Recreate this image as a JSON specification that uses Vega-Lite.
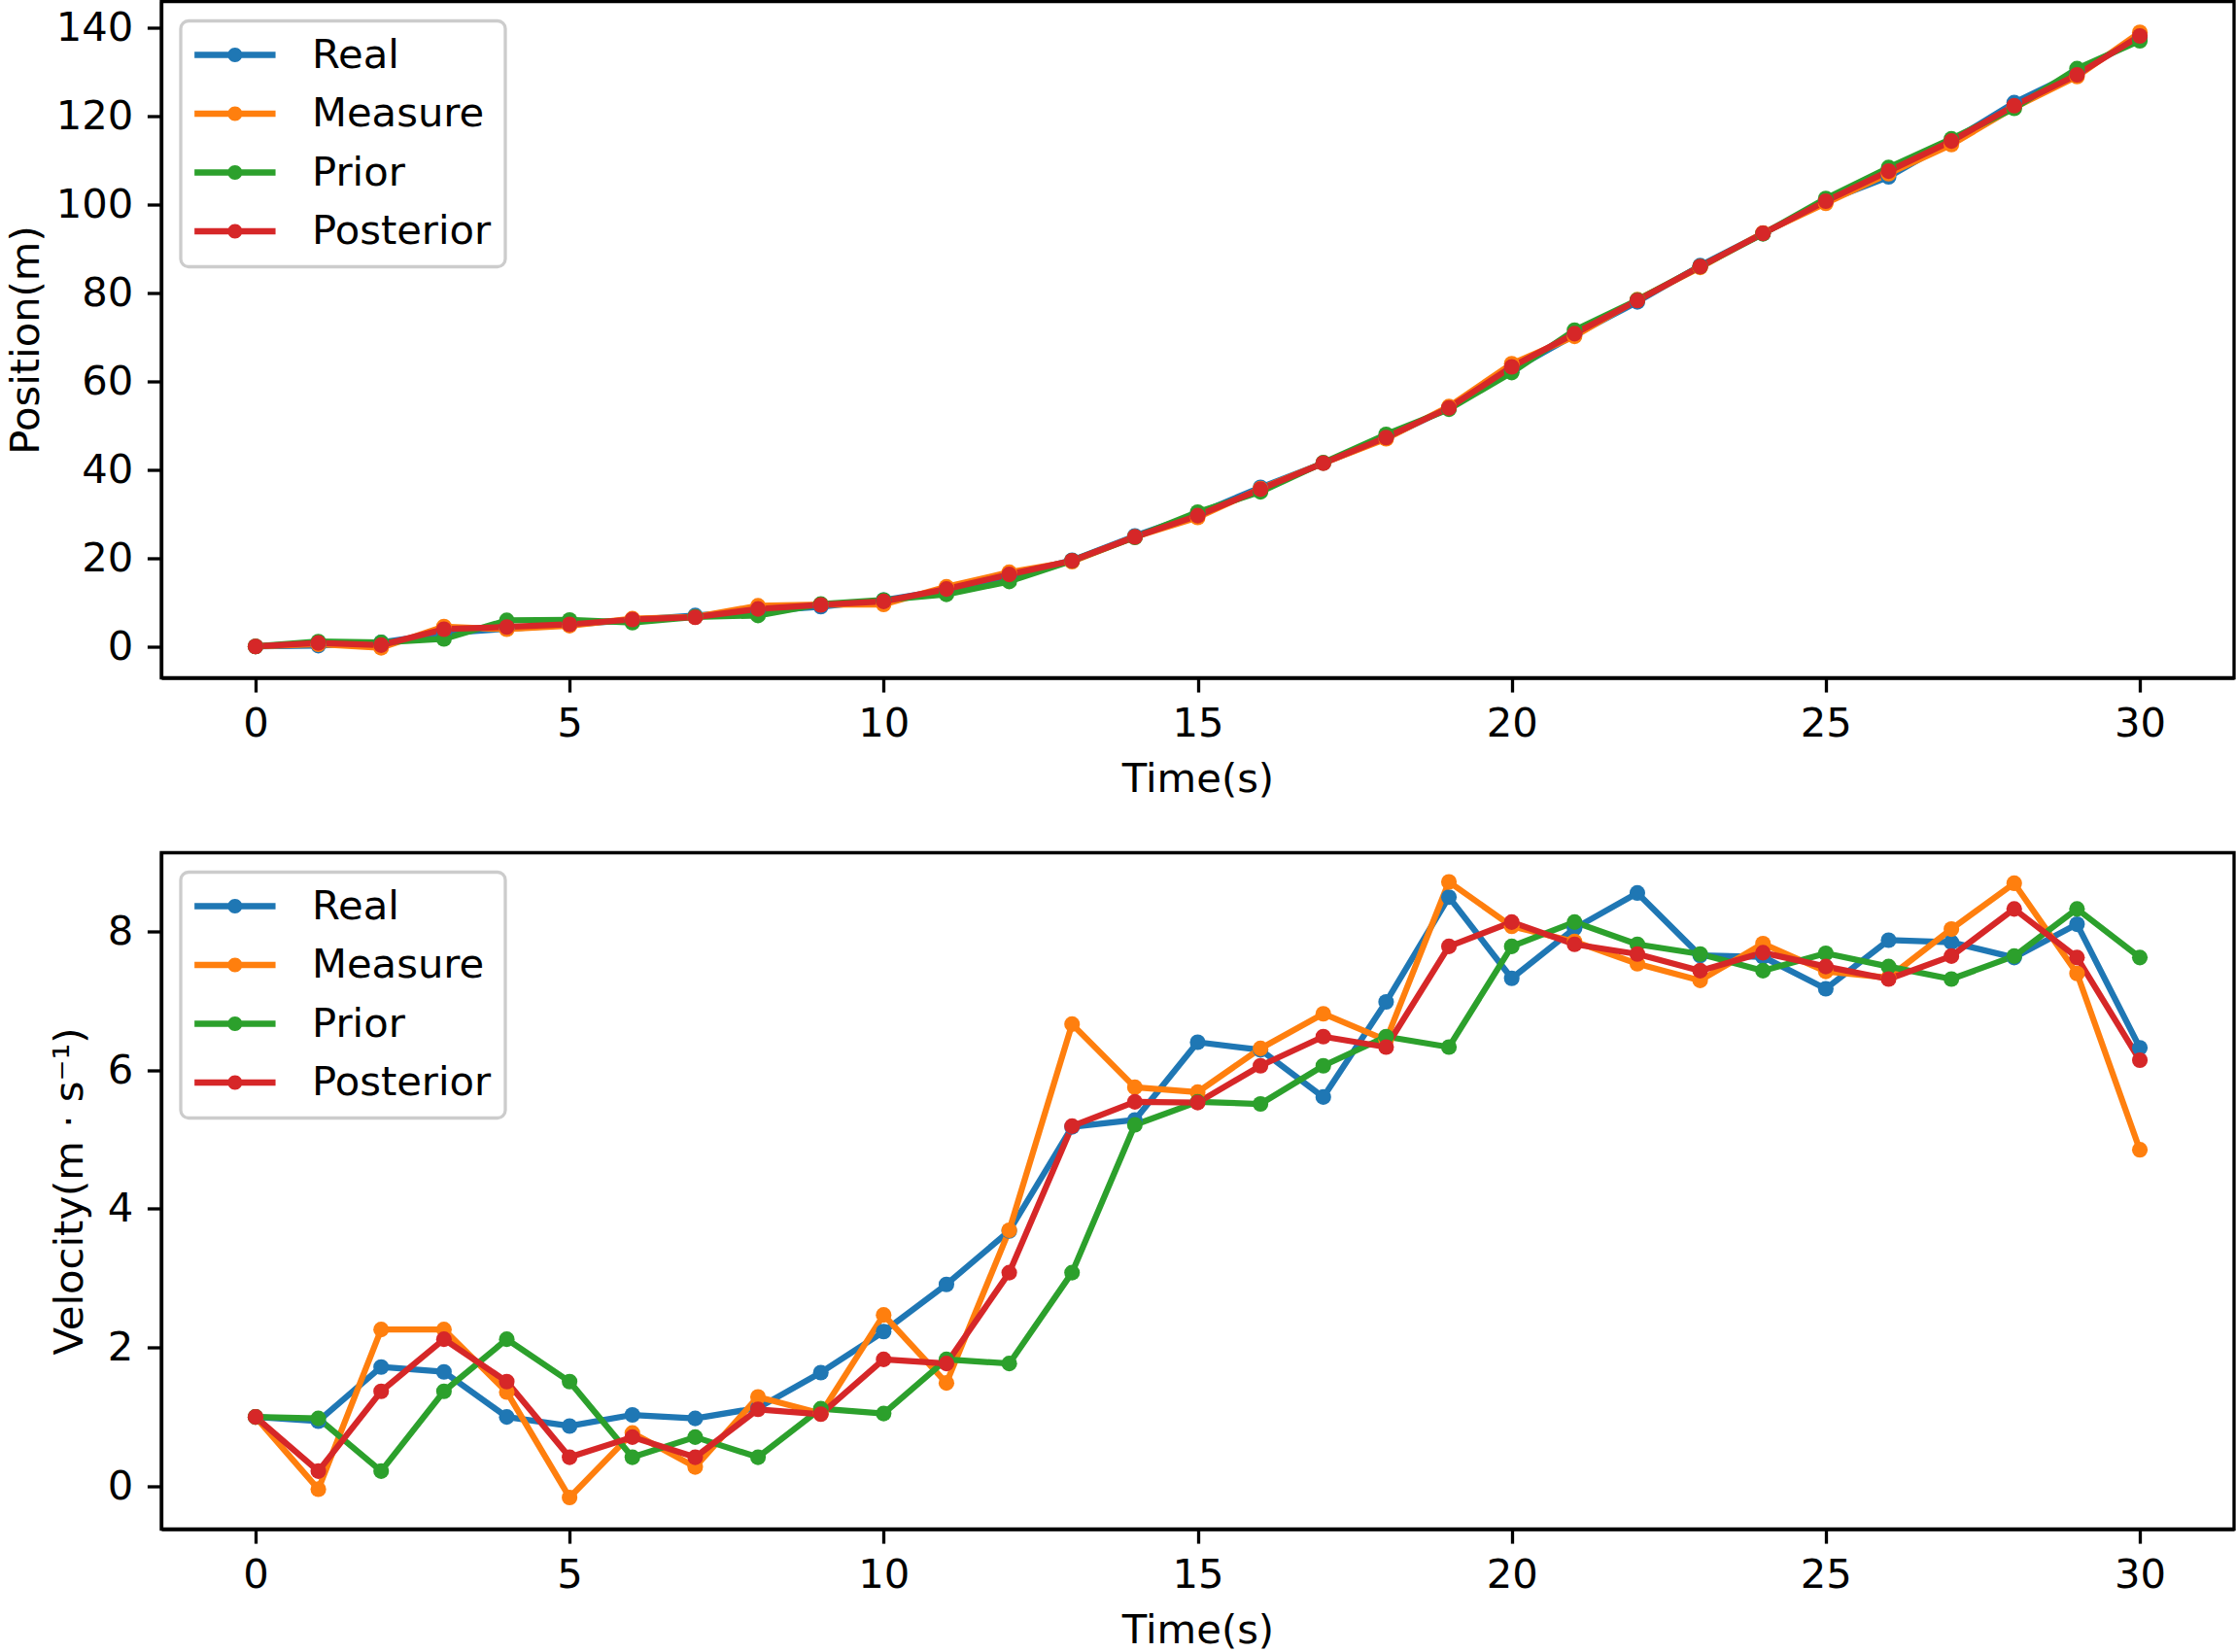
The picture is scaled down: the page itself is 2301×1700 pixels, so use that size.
{
  "$schema": "https://vega.github.io/schema/vega-lite/v6.json",
  "autosize": {"type": "none"},
  "padding": {"left": 166, "top": 1.5, "right": 2135, "bottom": 1698.5},
  "background": "white",
  "bounds": "flush",
  "spacing": 180,
  "config": {
    "font": "DejaVu Sans",
    "view": {"stroke": "black", "strokeWidth": 3.3},
    "axis": {
      "grid": false,
      "domainColor": "black", "domainWidth": 3.3,
      "tickColor": "black", "tickWidth": 3.3, "tickSize": 14.6,
      "labelFont": "DejaVu Sans", "labelFontSize": 41.7, "labelColor": "black",
      "titleFont": "DejaVu Sans", "titleFontSize": 41.7, "titleFontWeight": "normal", "titleColor": "black",
      "labelFlush": false, "labelOverlap": false
    },
    "legend": {
      "orient": "top-left", "offset": 20, "padding": 14, "rowPadding": 17.5,
      "labelFont": "DejaVu Sans", "labelFontSize": 41.7, "labelColor": "black", "labelOffset": 79, "labelLimit": 500,
      "symbolType": "M -1 -0.15 L 3 -0.15 L 3 0.15 L -1 0.15 Z M 1.36 0 A 0.36 0.36 0 1 1 0.64 0 A 0.36 0.36 0 1 1 1.36 0 Z",
      "symbolSize": 1739, "symbolStrokeWidth": 0, "symbolOpacity": 1,
      "fillColor": "rgba(255,255,255,0.8)", "strokeColor": "#cccccc", "strokeWidth": 3.3, "cornerRadius": 8
    }
  },
  "resolve": {"scale": {"color": "independent"}, "legend": {"color": "independent"}},
  "datasets": {
    "kf": [
      {"time":0,"series":"Real","position":0,"velocity":1.0},
      {"time":1,"series":"Real","position":0.2,"velocity":0.94},
      {"time":2,"series":"Real","position":0.9,"velocity":1.72},
      {"time":3,"series":"Real","position":3.0,"velocity":1.65},
      {"time":4,"series":"Real","position":4.0,"velocity":1.0},
      {"time":5,"series":"Real","position":4.9,"velocity":0.87},
      {"time":6,"series":"Real","position":6.0,"velocity":1.03},
      {"time":7,"series":"Real","position":7.0,"velocity":0.98},
      {"time":8,"series":"Real","position":8.0,"velocity":1.13},
      {"time":9,"series":"Real","position":9.0,"velocity":1.64},
      {"time":10,"series":"Real","position":10.5,"velocity":2.23},
      {"time":11,"series":"Real","position":12.8,"velocity":2.91},
      {"time":12,"series":"Real","position":16.0,"velocity":3.68},
      {"time":13,"series":"Real","position":19.5,"velocity":5.18},
      {"time":14,"series":"Real","position":25.0,"velocity":5.28},
      {"time":15,"series":"Real","position":30.0,"velocity":6.40},
      {"time":16,"series":"Real","position":36.0,"velocity":6.29},
      {"time":17,"series":"Real","position":41.5,"velocity":5.61},
      {"time":18,"series":"Real","position":47.2,"velocity":6.98},
      {"time":19,"series":"Real","position":54.0,"velocity":8.49},
      {"time":20,"series":"Real","position":62.5,"velocity":7.32},
      {"time":21,"series":"Real","position":70.5,"velocity":8.04},
      {"time":22,"series":"Real","position":78.0,"velocity":8.55},
      {"time":23,"series":"Real","position":86.2,"velocity":7.65},
      {"time":24,"series":"Real","position":93.5,"velocity":7.63},
      {"time":25,"series":"Real","position":100.8,"velocity":7.17},
      {"time":26,"series":"Real","position":106.3,"velocity":7.87},
      {"time":27,"series":"Real","position":114.4,"velocity":7.84},
      {"time":28,"series":"Real","position":123.1,"velocity":7.62},
      {"time":29,"series":"Real","position":130.0,"velocity":8.10},
      {"time":30,"series":"Real","position":137.8,"velocity":6.32},
      {"time":0,"series":"Measure","position":0,"velocity":1.0},
      {"time":1,"series":"Measure","position":0.5,"velocity":-0.04},
      {"time":2,"series":"Measure","position":-0.3,"velocity":2.26},
      {"time":3,"series":"Measure","position":4.5,"velocity":2.26},
      {"time":4,"series":"Measure","position":3.9,"velocity":1.36},
      {"time":5,"series":"Measure","position":4.7,"velocity":-0.16},
      {"time":6,"series":"Measure","position":6.3,"velocity":0.77},
      {"time":7,"series":"Measure","position":6.7,"velocity":0.28},
      {"time":8,"series":"Measure","position":9.2,"velocity":1.29},
      {"time":9,"series":"Measure","position":9.5,"velocity":1.05},
      {"time":10,"series":"Measure","position":9.5,"velocity":2.47},
      {"time":11,"series":"Measure","position":13.5,"velocity":1.49},
      {"time":12,"series":"Measure","position":16.8,"velocity":3.69},
      {"time":13,"series":"Measure","position":19.2,"velocity":6.66},
      {"time":14,"series":"Measure","position":24.8,"velocity":5.75},
      {"time":15,"series":"Measure","position":29.2,"velocity":5.68},
      {"time":16,"series":"Measure","position":35.7,"velocity":6.31},
      {"time":17,"series":"Measure","position":41.5,"velocity":6.81},
      {"time":18,"series":"Measure","position":47.0,"velocity":6.43},
      {"time":19,"series":"Measure","position":54.3,"velocity":8.71},
      {"time":20,"series":"Measure","position":64.0,"velocity":8.07},
      {"time":21,"series":"Measure","position":70.2,"velocity":7.85},
      {"time":22,"series":"Measure","position":78.5,"velocity":7.53},
      {"time":23,"series":"Measure","position":85.8,"velocity":7.29},
      {"time":24,"series":"Measure","position":93.6,"velocity":7.82},
      {"time":25,"series":"Measure","position":100.3,"velocity":7.42},
      {"time":26,"series":"Measure","position":107.0,"velocity":7.33},
      {"time":27,"series":"Measure","position":113.6,"velocity":8.03},
      {"time":28,"series":"Measure","position":122.0,"velocity":8.69},
      {"time":29,"series":"Measure","position":129.0,"velocity":7.39},
      {"time":30,"series":"Measure","position":139.0,"velocity":4.85},
      {"time":0,"series":"Prior","position":0,"velocity":1.0},
      {"time":1,"series":"Prior","position":1.1,"velocity":0.98},
      {"time":2,"series":"Prior","position":0.9,"velocity":0.22},
      {"time":3,"series":"Prior","position":1.7,"velocity":1.37},
      {"time":4,"series":"Prior","position":5.9,"velocity":2.12},
      {"time":5,"series":"Prior","position":6.0,"velocity":1.51},
      {"time":6,"series":"Prior","position":5.4,"velocity":0.42},
      {"time":7,"series":"Prior","position":6.7,"velocity":0.71},
      {"time":8,"series":"Prior","position":7.0,"velocity":0.42},
      {"time":9,"series":"Prior","position":9.6,"velocity":1.12},
      {"time":10,"series":"Prior","position":10.5,"velocity":1.05},
      {"time":11,"series":"Prior","position":11.8,"velocity":1.83},
      {"time":12,"series":"Prior","position":14.7,"velocity":1.77},
      {"time":13,"series":"Prior","position":19.4,"velocity":3.08},
      {"time":14,"series":"Prior","position":24.7,"velocity":5.21},
      {"time":15,"series":"Prior","position":30.4,"velocity":5.54},
      {"time":16,"series":"Prior","position":35.0,"velocity":5.51},
      {"time":17,"series":"Prior","position":41.6,"velocity":6.06},
      {"time":18,"series":"Prior","position":48.0,"velocity":6.48},
      {"time":19,"series":"Prior","position":53.7,"velocity":6.33},
      {"time":20,"series":"Prior","position":62.0,"velocity":7.78},
      {"time":21,"series":"Prior","position":71.6,"velocity":8.13},
      {"time":22,"series":"Prior","position":78.4,"velocity":7.81},
      {"time":23,"series":"Prior","position":86.0,"velocity":7.67},
      {"time":24,"series":"Prior","position":93.4,"velocity":7.43},
      {"time":25,"series":"Prior","position":101.4,"velocity":7.68},
      {"time":26,"series":"Prior","position":108.4,"velocity":7.49},
      {"time":27,"series":"Prior","position":114.9,"velocity":7.31},
      {"time":28,"series":"Prior","position":121.8,"velocity":7.64},
      {"time":29,"series":"Prior","position":130.8,"velocity":8.32},
      {"time":30,"series":"Prior","position":137.1,"velocity":7.62},
      {"time":0,"series":"Posterior","position":0,"velocity":1.0},
      {"time":1,"series":"Posterior","position":0.8,"velocity":0.22},
      {"time":2,"series":"Posterior","position":0.3,"velocity":1.37},
      {"time":3,"series":"Posterior","position":3.9,"velocity":2.12},
      {"time":4,"series":"Posterior","position":4.4,"velocity":1.51},
      {"time":5,"series":"Posterior","position":5.0,"velocity":0.42},
      {"time":6,"series":"Posterior","position":6.1,"velocity":0.71},
      {"time":7,"series":"Posterior","position":6.6,"velocity":0.42},
      {"time":8,"series":"Posterior","position":8.5,"velocity":1.11},
      {"time":9,"series":"Posterior","position":9.4,"velocity":1.04},
      {"time":10,"series":"Posterior","position":10.2,"velocity":1.83},
      {"time":11,"series":"Posterior","position":13.0,"velocity":1.77},
      {"time":12,"series":"Posterior","position":16.3,"velocity":3.08},
      {"time":13,"series":"Posterior","position":19.4,"velocity":5.19},
      {"time":14,"series":"Posterior","position":24.8,"velocity":5.54},
      {"time":15,"series":"Posterior","position":29.6,"velocity":5.53},
      {"time":16,"series":"Posterior","position":35.6,"velocity":6.06},
      {"time":17,"series":"Posterior","position":41.5,"velocity":6.48},
      {"time":18,"series":"Posterior","position":47.3,"velocity":6.33},
      {"time":19,"series":"Posterior","position":54.0,"velocity":7.78},
      {"time":20,"series":"Posterior","position":63.3,"velocity":8.13},
      {"time":21,"series":"Posterior","position":70.8,"velocity":7.81},
      {"time":22,"series":"Posterior","position":78.3,"velocity":7.67},
      {"time":23,"series":"Posterior","position":86.0,"velocity":7.43},
      {"time":24,"series":"Posterior","position":93.5,"velocity":7.69},
      {"time":25,"series":"Posterior","position":100.8,"velocity":7.49},
      {"time":26,"series":"Posterior","position":107.6,"velocity":7.31},
      {"time":27,"series":"Posterior","position":114.4,"velocity":7.64},
      {"time":28,"series":"Posterior","position":122.4,"velocity":8.32},
      {"time":29,"series":"Posterior","position":129.4,"velocity":7.62},
      {"time":30,"series":"Posterior","position":138.2,"velocity":6.14}
    ]
  },
  "vconcat": [
    {
      "width": 2133, "height": 696,
      "data": {"name": "kf"},
      "encoding": {
        "x": {"field": "time", "type": "quantitative",
              "scale": {"domain": [-1.5, 31.5], "nice": false, "zero": false},
              "axis": {"values": [0,5,10,15,20,25,30], "title": "Time(s)", "labelPadding": 12, "titlePadding": 16}},
        "y": {"field": "position", "type": "quantitative",
              "scale": {"domain": [-7.1, 146], "nice": false, "zero": false},
              "axis": {"values": [0,20,40,60,80,100,120,140], "title": "Position(m)", "labelPadding": 14.6, "titlePadding": 9}},
        "color": {"field": "series", "type": "nominal",
            "scale": {"domain": ["Real","Measure","Prior","Posterior"], "range": ["#1f77b4","#ff7f0e","#2ca02c","#d62728"]},
            "legend": {"title": null,
              "encode": {"symbols": {"update": {
                "fill": {"signal": "datum.value === 'Real' ? '#1f77b4' : datum.value === 'Measure' ? '#ff7f0e' : datum.value === 'Prior' ? '#2ca02c' : '#d62728'"},
                "strokeWidth": {"value": 0}, "opacity": {"value": 1}}}}}}
      },
      "layer": [
        {"mark": {"type": "line", "strokeWidth": 6.25, "strokeJoin": "round"}},
        {"mark": {"type": "point", "filled": true, "size": 260, "opacity": 1}}
      ]
    },
    {
      "width": 2133, "height": 696,
      "data": {"name": "kf"},
      "encoding": {
        "x": {"field": "time", "type": "quantitative",
              "scale": {"domain": [-1.5, 31.5], "nice": false, "zero": false},
              "axis": {"values": [0,5,10,15,20,25,30], "title": "Time(s)", "labelPadding": 12, "titlePadding": 16}},
        "y": {"field": "velocity", "type": "quantitative",
              "scale": {"domain": [-0.615, 9.13], "nice": false, "zero": false},
              "axis": {"values": [0,2,4,6,8], "title": "Velocity(m · s⁻¹)", "labelPadding": 14.6, "titlePadding": 17}},
        "color": {"field": "series", "type": "nominal",
            "scale": {"domain": ["Real","Measure","Prior","Posterior"], "range": ["#1f77b4","#ff7f0e","#2ca02c","#d62728"]},
            "legend": {"title": null,
              "encode": {"symbols": {"update": {
                "fill": {"signal": "datum.value === 'Real' ? '#1f77b4' : datum.value === 'Measure' ? '#ff7f0e' : datum.value === 'Prior' ? '#2ca02c' : '#d62728'"},
                "strokeWidth": {"value": 0}, "opacity": {"value": 1}}}}}}
      },
      "layer": [
        {"mark": {"type": "line", "strokeWidth": 6.25, "strokeJoin": "round"}},
        {"mark": {"type": "point", "filled": true, "size": 260, "opacity": 1}}
      ]
    }
  ]
}
